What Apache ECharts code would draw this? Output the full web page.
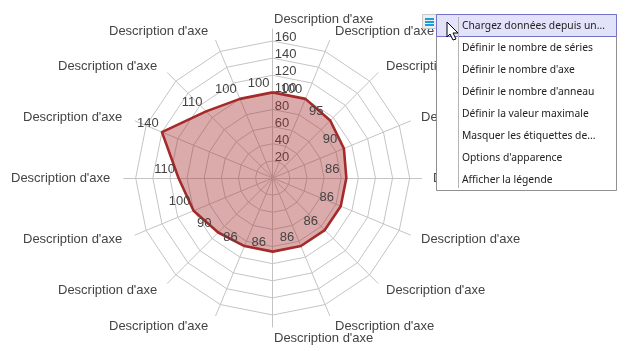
<!DOCTYPE html>
<html>
<head>
<meta charset="utf-8">
<style>html,body{margin:0;padding:0;background:#fff}#chart{width:626px;height:351px}</style>
<script src="https://cdn.jsdelivr.net/npm/echarts@6/dist/echarts.min.js"></script>
</head>
<body>
<div id="chart"></div>
<script>
// valeurs, depuis le haut, sens anti-horaire
var axisName = "Description d'axe";
var values = [100, 100, 110, 140, 110, 100, 90, 86, 86, 86, 86, 86, 86, 90, 95, 100];
var maxValue = 160;
var ringCount = 8;
var menuItems = [
  'Chargez données depuis un...',
  'Définir le nombre de séries',
  "Définir le nombre d'axe",
  "Définir le nombre d'anneau",
  'Définir la valeur maximale',
  'Masquer les étiquettes de...',
  "Options d'apparence",
  'Afficher la légende'
];
// coin gauche des descriptions, même ordre que values
var namePos = [
  [274, 18], [109, 30], [58, 65], [23, 116], [11, 177], [23, 238], [58, 289], [109, 325],
  [274, 337], [335, 325], [386, 289], [421, 238], [433, 177], [421, 116], [386, 65], [335, 30]
];

var center = [272.7, 178];
var chart = echarts.init(document.getElementById('chart'));

var ringIndicators = values.map(function (v, i) {
  var item = { name: '', max: maxValue, min: 0 };
  if (i === 0) item.axisLabel = { show: true };
  return item;
});
var spokeIndicators = values.map(function () {
  return { name: '', max: maxValue, min: 0 };
});

var graphics = [];
namePos.forEach(function (p) {
  graphics.push({
    type: 'text', x: p[0], y: p[1] + 1, z: 5,
    style: { text: axisName, fill: '#444', font: '13px "Liberation Sans"', verticalAlign: 'middle' }
  });
});

// menu contextuel
graphics.push({ type: 'rect', z: 10, shape: { x: 422.5, y: 14.5, width: 14, height: 14 }, style: { fill: '#eeeeee', stroke: '#c8c8c8' } });
graphics.push({ type: 'rect', z: 11, shape: { x: 425, y: 18, width: 9, height: 2 }, style: { fill: '#1a9ed8' } });
graphics.push({ type: 'rect', z: 11, shape: { x: 425, y: 21, width: 9, height: 2 }, style: { fill: '#1a9ed8' } });
graphics.push({ type: 'rect', z: 11, shape: { x: 425, y: 24, width: 9, height: 2 }, style: { fill: '#1a9ed8' } });
graphics.push({ type: 'rect', z: 10, shape: { x: 436.5, y: 14.5, width: 180, height: 176 }, style: { fill: '#fff', stroke: '#909090' } });
graphics.push({ type: 'rect', z: 11, shape: { x: 436.5, y: 14.5, width: 180, height: 22 }, style: { fill: '#e2e2fb', stroke: '#7373cc' } });
graphics.push({ type: 'line', z: 12, shape: { x1: 458.5, y1: 17, x2: 458.5, y2: 188 }, style: { stroke: '#b4b4b4' } });
menuItems.forEach(function (t, i) {
  graphics.push({
    type: 'text', x: 462, y: 26 + i * 22, z: 12,
    style: { text: t, fill: '#222', font: '10.3px "Noto Sans"', verticalAlign: 'middle' }
  });
});
// curseur
graphics.push({
  type: 'polyline', z: 13,
  shape: { points: [[447, 22], [447, 37], [450, 34], [453, 40], [456, 39], [453, 33], [458, 33], [447, 22]] },
  style: { fill: '#fff', stroke: '#000', lineWidth: 1 }
});

var option = {
  animation: false,
  textStyle: { fontFamily: 'Liberation Sans' },
  graphic: graphics,
  radar: [
    {
      // anneaux et graduations
      center: center,
      radius: 137,
      startAngle: 90,
      splitNumber: ringCount,
      shape: 'polygon',
      axisName: { show: false },
      splitArea: { show: false },
      splitLine: { lineStyle: { color: '#c4c4c4', width: 1 } },
      axisLine: { show: false },
      axisTick: { show: false },
      axisLabel: {
        show: false, color: '#444', fontSize: 13, margin: -2, align: 'left', verticalAlign: 'bottom',
        lineHeight: 7,
        formatter: function (v) { return v === 0 ? '' : v; }
      },
      indicator: ringIndicators
    },
    {
      // rayons, un peu plus longs que le dernier anneau
      center: center,
      radius: 149,
      startAngle: 90,
      splitNumber: ringCount,
      shape: 'polygon',
      axisName: { show: false },
      splitArea: { show: false },
      splitLine: { show: false },
      axisLine: { lineStyle: { color: '#c4c4c4', width: 1 } },
      axisTick: { show: false },
      axisLabel: { show: false },
      indicator: spokeIndicators
    }
  ],
  series: [{
    type: 'radar',
    radarIndex: 0,
    symbol: 'circle',
    symbolSize: 1,
    itemStyle: { color: '#a52a2a' },
    lineStyle: { color: '#a52a2a', width: 2.6 },
    areaStyle: { color: '#a52a2a', opacity: 0.4 },
    label: { show: true, position: 'top', distance: 2, offset: [-14, 0], color: '#444', fontSize: 13 },
    data: [{ value: values }]
  }]
};
chart.setOption(option);
</script>
</body>
</html>
